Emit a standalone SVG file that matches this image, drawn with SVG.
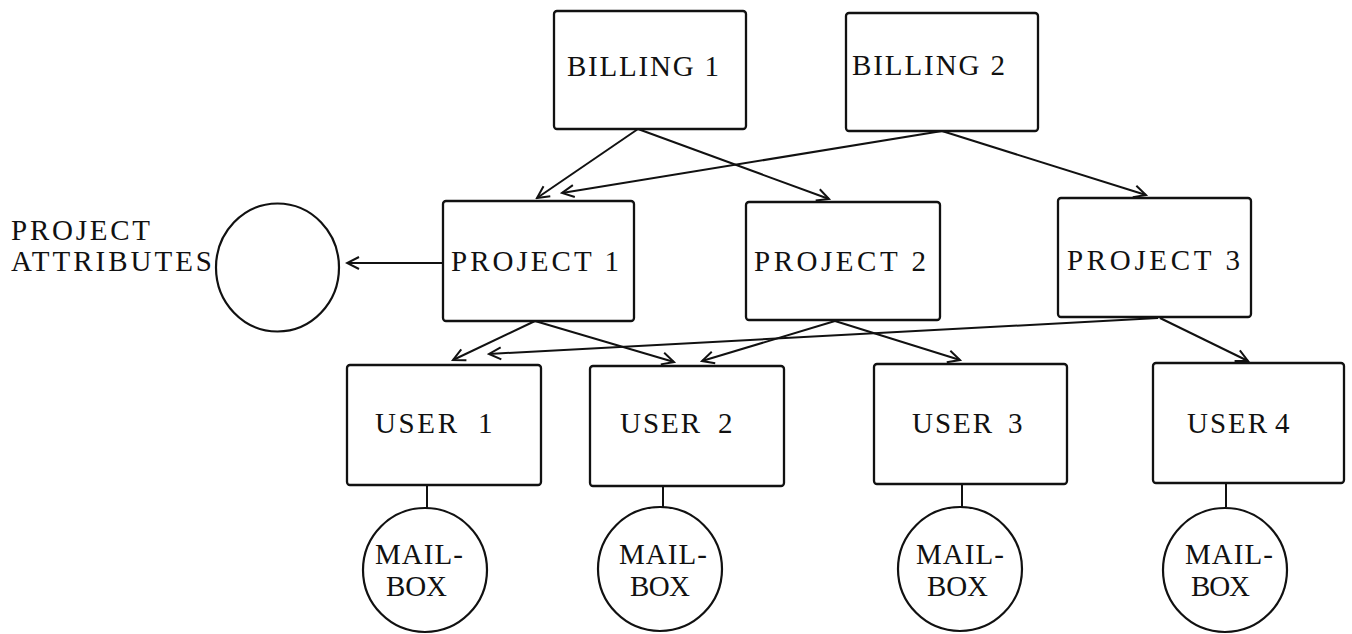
<svg xmlns="http://www.w3.org/2000/svg" width="1352" height="634" viewBox="0 0 1352 634">
  <style>
    .box { fill: #fff; stroke: #111; stroke-width: 2.3; }
    .ring { fill: #fff; stroke: #111; stroke-width: 2.2; }
    .lbl { font-family: "Liberation Serif", "Times New Roman", serif; font-size: 29px; fill: #111; }
    .edge { fill: none; stroke: #111; stroke-width: 2; }
    .arrow { marker-end: url(#head); }
  </style>
  <defs>
    <marker id="head" viewBox="-14 -8 16 16" refX="0" refY="0" markerWidth="16" markerHeight="16" markerUnits="userSpaceOnUse" orient="auto">
      <path d="M -12 -6 L 0 0 L -12 6" fill="none" stroke="#111" stroke-width="2"/>
    </marker>
  </defs>
  <rect width="1352" height="634" fill="#fff"/>

  <!-- connectors -->
  <g id="connectors">
    <line class="edge arrow" x1="638" y1="129" x2="537" y2="198"/>
    <line class="edge arrow" x1="638" y1="129" x2="829" y2="199"/>
    <line class="edge arrow" x1="942" y1="131" x2="562" y2="193"/>
    <line class="edge arrow" x1="942" y1="131" x2="1146" y2="195"/>
    <line class="edge arrow" x1="443" y1="263" x2="347" y2="263"/>
    <line class="edge arrow" x1="535" y1="321" x2="453" y2="360"/>
    <line class="edge arrow" x1="535" y1="321" x2="674" y2="362"/>
    <line class="edge arrow" x1="835" y1="321" x2="702" y2="361"/>
    <line class="edge arrow" x1="835" y1="321" x2="960" y2="360"/>
    <line class="edge arrow" x1="1158" y1="318" x2="489" y2="354"/>
    <line class="edge arrow" x1="1160" y1="318" x2="1248" y2="361"/>
    <line class="edge" x1="427" y1="485" x2="427" y2="508"/>
    <line class="edge" x1="663" y1="486" x2="663" y2="507"/>
    <line class="edge" x1="962" y1="484" x2="962" y2="507"/>
    <line class="edge" x1="1226" y1="483" x2="1226" y2="507"/>
  </g>

  <g id="billing1">
    <rect class="box" x="554" y="11" width="192" height="118" rx="3"/>
    <text class="lbl" x="567" y="76" textLength="152" lengthAdjust="spacing">BILLING 1</text>
  </g>
  <g id="billing2">
    <rect class="box" x="846" y="13" width="192" height="118" rx="3"/>
    <text class="lbl" x="852" y="75" textLength="153" lengthAdjust="spacing">BILLING 2</text>
  </g>

  <g id="project-attributes">
    <ellipse class="ring" cx="277.5" cy="267.5" rx="61.5" ry="64"/>
    <text class="lbl" x="11" y="240" textLength="139" lengthAdjust="spacing">PROJECT</text>
    <text class="lbl" x="11" y="271" textLength="201" lengthAdjust="spacing">ATTRIBUTES</text>
  </g>

  <g id="project1">
    <rect class="box" x="443" y="201" width="191" height="120" rx="3"/>
    <text class="lbl" x="451" y="271" textLength="168" lengthAdjust="spacing">PROJECT 1</text>
  </g>
  <g id="project2">
    <rect class="box" x="746" y="202" width="194" height="118" rx="3"/>
    <text class="lbl" x="754" y="271" textLength="172" lengthAdjust="spacing">PROJECT 2</text>
  </g>
  <g id="project3">
    <rect class="box" x="1058" y="198" width="193" height="119" rx="3"/>
    <text class="lbl" x="1067" y="270" textLength="173" lengthAdjust="spacing">PROJECT 3</text>
  </g>

  <g id="user1">
    <rect class="box" x="347" y="365" width="194" height="120" rx="3"/>
    <text class="lbl" y="433"><tspan x="375" textLength="82" lengthAdjust="spacing">USER</tspan><tspan x="478">1</tspan></text>
  </g>
  <g id="user2">
    <rect class="box" x="590" y="366" width="194" height="120" rx="3"/>
    <text class="lbl" y="433"><tspan x="620" textLength="80" lengthAdjust="spacing">USER</tspan><tspan x="718">2</tspan></text>
  </g>
  <g id="user3">
    <rect class="box" x="874" y="364" width="193" height="120" rx="3"/>
    <text class="lbl" y="433"><tspan x="912" textLength="80" lengthAdjust="spacing">USER</tspan><tspan x="1008">3</tspan></text>
  </g>
  <g id="user4">
    <rect class="box" x="1153" y="363" width="191" height="120" rx="3"/>
    <text class="lbl" y="433"><tspan x="1187" textLength="80" lengthAdjust="spacing">USER</tspan><tspan x="1275">4</tspan></text>
  </g>

  <g id="mailbox1">
    <circle class="ring" cx="425" cy="570" r="62"/>
    <text class="lbl" x="375" y="564" textLength="88" lengthAdjust="spacing">MAIL-</text>
    <text class="lbl" x="386" y="596" textLength="61" lengthAdjust="spacing">BOX</text>
  </g>
  <g id="mailbox2">
    <circle class="ring" cx="660" cy="569" r="62" stroke-width="2.8"/>
    <text class="lbl" x="619" y="564" textLength="88" lengthAdjust="spacing">MAIL-</text>
    <text class="lbl" x="630" y="596" textLength="60" lengthAdjust="spacing">BOX</text>
  </g>
  <g id="mailbox3">
    <circle class="ring" cx="960" cy="569" r="62" stroke-width="2.5"/>
    <text class="lbl" x="916" y="564" textLength="88" lengthAdjust="spacing">MAIL-</text>
    <text class="lbl" x="927" y="596" textLength="61" lengthAdjust="spacing">BOX</text>
  </g>
  <g id="mailbox4">
    <circle class="ring" cx="1225" cy="570" r="62"/>
    <text class="lbl" x="1185" y="564" textLength="88" lengthAdjust="spacing">MAIL-</text>
    <text class="lbl" x="1191" y="596" textLength="59" lengthAdjust="spacing">BOX</text>
  </g>
</svg>
